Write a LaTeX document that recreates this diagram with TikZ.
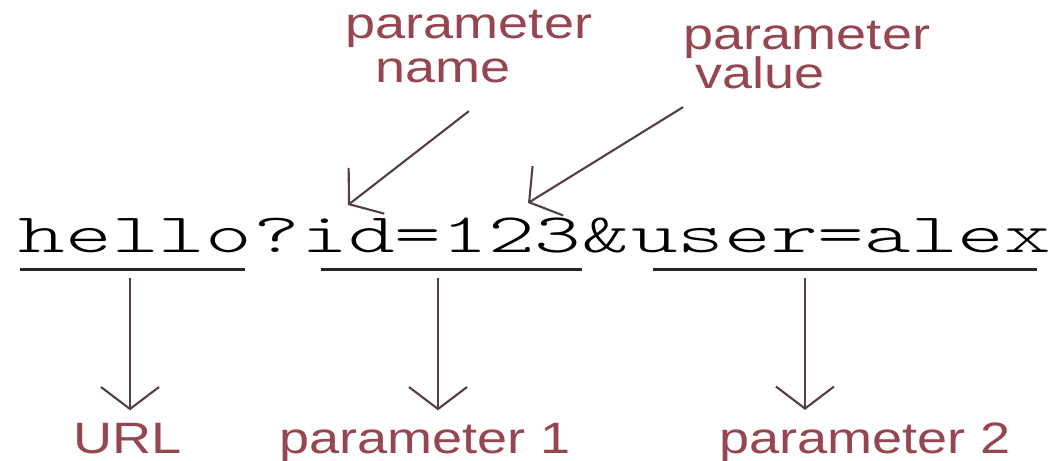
\documentclass[tikz,border=0pt]{standalone}
\usepackage{fontspec}
\usepackage{xcolor}
\usetikzlibrary{positioning,arrows.meta}

\newfontfamily\querymono[FakeStretch=1.6]{lmmonolt10-regular.otf}
\newfontfamily\labelsans[FakeStretch=1.23]{Liberation Sans}

\definecolor{labelred}{RGB}{150,70,80}
\definecolor{arrowgrey}{RGB}{85,62,64}

\begin{document}
\begin{tikzpicture}[
    x=0.01cm,
    y=-0.01cm,
    query/.style={
        inner sep=0pt,
        font=\querymono\fontsize{15.8pt}{16pt}\selectfont,
        text=black
    },
    tag/.style={
        font=\labelsans\fontsize{12.5pt}{12.5pt}\selectfont,
        text=labelred
    },
    toptag/.style={
        tag,
        inner sep=0pt,
        align=left
    },
    underline/.style={
        draw,
        black!85,
        line width=0.85pt
    },
    pointer/.style={
        draw,
        -{Straight Barb[length=0.22cm,width=0.58cm]},
        line width=0.6pt,
        color=arrowgrey
    }
]
    \useasboundingbox (0,0) rectangle (1063,460);

    % --- Middle Row: the query string ---
    \node [query, anchor=base west] (host) at (18,252) {hello};
    \node [query, base right=0pt of host] (qmark) {?};
    \node [query, base right=0pt of qmark] (first) {id=123};
    \node [query, base right=0pt of first] (amp) {\&};
    \node [query, base right=0pt of amp] (second) {user=alex};

    % underlines
    \path [underline] ([shift={(0.02cm,-0.17cm)}]host.base west) -- ([shift={(-0.08cm,-0.17cm)}]host.base east);
    \path [underline] ([shift={(0.2cm,-0.17cm)}]first.base west) -- ([shift={(0cm,-0.17cm)}]first.base east);
    \path [underline] ([shift={(0.23cm,-0.17cm)}]second.base west) -- ([shift={(-0.15cm,-0.17cm)}]second.base east);

    % --- Top Row: name / value ---
    % (base anchor sits on the last line)
    \node [toptag, anchor=base west] (namelbl) at (345,82) {parameter\\\hspace*{0.3cm}name};
    \node [toptag, anchor=base west] (valuelbl) at (683,88) {parameter\\[-0.05cm]\hspace*{0.12cm}value};

    \coordinate (nametip) at (348,205);
    \coordinate (valuetip) at (528,203);

    \path [pointer] ([yshift=-0.28cm]namelbl.south) -- (nametip);
    \path [pointer] ([yshift=-0.18cm]valuelbl.south west) -- (valuetip);

    % --- Bottom Row: what each part is ---
    \node [tag, anchor=base] (urllbl) at (128,453) {URL};
    \node [tag, anchor=base] (firstlbl) at (425,453) {parameter 1};
    \node [tag, anchor=base] (secondlbl) at (865,453) {parameter 2};

    \coordinate (urlfoot) at (130,278);
    \coordinate (firstfoot) at (438,278);
    \coordinate (secondfoot) at (805,278);

    \path [pointer] (urlfoot) -- (urlfoot |- urllbl.north);
    \path [pointer] (firstfoot) -- (firstfoot |- firstlbl.north);
    \path [pointer] (secondfoot) -- (secondfoot |- secondlbl.north);

\end{tikzpicture}
\end{document}
